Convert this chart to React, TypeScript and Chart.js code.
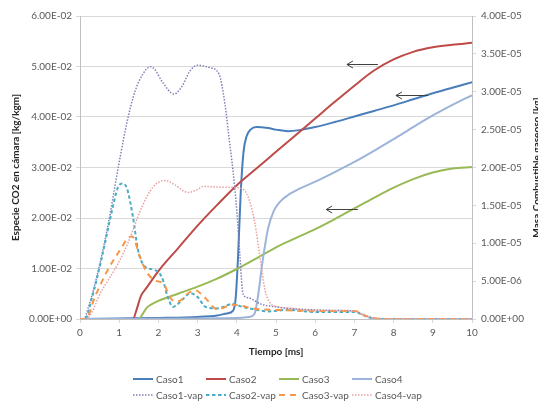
import React, { useEffect, useRef } from 'react';
import { Chart, registerables } from 'chart.js';

Chart.register(...registerables);

// ---- Data (time in ms) ----
const caso1T = [0, 1, 2, 3, 3.5, 3.75, 3.9, 3.97, 4.03, 4.1, 4.17, 4.25, 4.35, 4.5, 4.8, 5.0, 5.3, 5.6, 6.0, 6.5, 7.0, 7.5, 8.0, 8.5, 9.0, 9.5, 10];
const caso1Y = [0, 0.0001, 0.0002, 0.0004, 0.0007, 0.0011, 0.0016, 0.004, 0.012, 0.025, 0.033, 0.0362, 0.0375, 0.038, 0.0378, 0.0375, 0.0372, 0.0374, 0.038, 0.039, 0.0401, 0.0412, 0.0423, 0.0435, 0.0447, 0.0458, 0.0469];

const caso2T = [0, 1.35, 1.45, 1.55, 1.7, 2, 2.5, 3, 3.5, 4, 4.5, 5, 5.5, 6, 6.5, 7, 7.5, 8, 8.5, 9, 9.5, 10];
const caso2Y = [0, 0, 0.002, 0.0045, 0.0062, 0.0095, 0.014, 0.0185, 0.0226, 0.0265, 0.0298, 0.0331, 0.0364, 0.0397, 0.043, 0.0462, 0.0492, 0.0514, 0.0529, 0.0538, 0.0543, 0.0547];

const caso3T = [0, 1.5, 1.6, 1.7, 1.8, 2, 2.5, 3, 3.5, 4, 4.5, 5, 5.5, 6, 6.5, 7, 7.5, 8, 8.5, 9, 9.5, 10];
const caso3Y = [0, 0, 0.001, 0.0022, 0.0028, 0.0036, 0.005, 0.0064, 0.008, 0.0099, 0.012, 0.0142, 0.016, 0.0178, 0.0198, 0.0219, 0.024, 0.026, 0.0277, 0.029, 0.0298, 0.0301];

const caso4T = [0, 4, 4.3, 4.45, 4.55, 4.65, 4.8, 4.95, 5.1, 5.3, 5.6, 6, 6.5, 7, 7.5, 8, 8.5, 9, 9.5, 10];
const caso4Y = [0, 0.0002, 0.0004, 0.001, 0.005, 0.011, 0.018, 0.0215, 0.0232, 0.0245, 0.0258, 0.0272, 0.0291, 0.0311, 0.0333, 0.0356, 0.038, 0.0403, 0.0424, 0.0443];

// vapour mass [kg] (secondary axis)
const vap1T = [0, 0.1, 0.2, 0.4, 0.7, 1.0, 1.2, 1.4, 1.6, 1.8, 1.9, 2.1, 2.4, 2.6, 2.8, 3.0, 3.3, 3.55, 3.7, 3.8, 3.9, 4.0, 4.08, 4.16, 4.3, 4.6, 5.0, 5.5, 6.0, 6.5, 7.0, 7.2, 7.5, 8, 10];
const vap1Y = [0, 0, 1.33e-6, 5.0e-6, 1.2e-5, 2.07e-5, 2.6e-5, 3.0e-5, 3.23e-5, 3.33e-5, 3.3e-5, 3.13e-5, 2.97e-5, 3.07e-5, 3.27e-5, 3.35e-5, 3.32e-5, 3.23e-5, 2.83e-5, 2.4e-5, 1.97e-5, 1.43e-5, 8.3e-6, 3.3e-6, 2.8e-6, 2.0e-6, 1.6e-6, 1.33e-6, 1.2e-6, 1.13e-6, 1.07e-6, 6e-7, 1.3e-7, 0, 0];

const vap2T = [0, 0.13, 0.3, 0.56, 0.82, 0.97, 1.08, 1.2, 1.35, 1.48, 1.66, 1.9, 2.09, 2.24, 2.37, 2.6, 2.81, 3.0, 3.2, 3.5, 3.9, 4.1, 4.4, 4.8, 5.3, 6, 7, 7.3, 7.6, 10];
const vap2Y = [0, 0, 2.7e-6, 8.2e-6, 1.44e-5, 1.74e-5, 1.79e-5, 1.72e-5, 1.35e-5, 9.1e-6, 6.9e-6, 6.5e-6, 5.5e-6, 2.9e-6, 1.6e-6, 2.5e-6, 3.4e-6, 2.9e-6, 1.6e-6, 1.4e-6, 2.0e-6, 1.67e-6, 1.33e-6, 1.0e-6, 1.2e-6, 9.3e-7, 9.3e-7, 3.3e-7, 0, 0];

const vap3T = [0, 0.15, 0.38, 0.71, 1.07, 1.22, 1.33, 1.53, 1.7, 1.91, 2.12, 2.35, 2.5, 2.76, 2.93, 3.19, 3.5, 3.9, 4.5, 5, 6, 7, 7.3, 7.7, 10];
const vap3Y = [0, 0, 2.9e-6, 6.5e-6, 9.5e-6, 1.07e-5, 1.09e-5, 8.2e-6, 6.2e-6, 5.1e-6, 4.7e-6, 2.5e-6, 2.3e-6, 3.4e-6, 3.8e-6, 2.8e-6, 1.27e-6, 1.87e-6, 1.33e-6, 1.2e-6, 1.07e-6, 1.07e-6, 4e-7, 0, 0];

const vap4T = [0, 0.15, 0.56, 0.97, 1.22, 1.58, 1.86, 2.17, 2.42, 2.76, 3.0, 3.14, 3.65, 4.08, 4.29, 4.46, 4.59, 4.72, 4.85, 5.0, 5.5, 6, 7, 7.3, 7.6, 10];
const vap4Y = [0, 0, 3.8e-6, 7.3e-6, 1.0e-5, 1.48e-5, 1.74e-5, 1.83e-5, 1.77e-5, 1.67e-5, 1.71e-5, 1.75e-5, 1.74e-5, 1.73e-5, 1.61e-5, 1.27e-5, 8.2e-6, 3.8e-6, 2.1e-6, 1.67e-6, 1.33e-6, 1.13e-6, 1.07e-6, 3.3e-7, 0, 0];

const seriesNames = ['Caso1', 'Caso2', 'Caso3', 'Caso4', 'Caso1-vap', 'Caso2-vap', 'Caso3-vap', 'Caso4-vap'];

// arrows (data coordinates: time from/to, left-axis value)
const arrowFromT = [7.6, 8.88, 7.09];
const arrowToT = [6.81, 8.06, 6.28];
const arrowY = [0.0505, 0.0444, 0.0218];

const FONT = 'Lato, "Liberation Sans", sans-serif';
const TICK_COLOR = '#595959';
const TITLE_COLOR = '#262626';
const GRID = '#d9d9d9';
const AXIS = '#bfbfbf';

function sci(v: number): string {
  if (Math.abs(v) < 1e-15) return '0.00E+00';
  const [m, e] = v.toExponential(2).split('e');
  const n = parseInt(e, 10);
  return m + 'E' + (n < 0 ? '-' : '+') + String(Math.abs(n)).padStart(2, '0');
}

function pts(t: number[], y: number[]) {
  return t.map((x, i) => ({ x, y: y[i] }));
}

const styles = [
  { color: '#4a7ebb', width: 2, dash: [] as number[] },
  { color: '#be4b48', width: 2, dash: [] as number[] },
  { color: '#98b954', width: 2, dash: [] as number[] },
  { color: '#9db4da', width: 2, dash: [] as number[] },
  { color: '#8080b8', width: 1.5, dash: [1.5, 1.5] },
  { color: '#4bacc6', width: 2, dash: [3.5, 2.5] },
  { color: '#f79646', width: 2, dash: [6, 5] },
  { color: '#e8a0a0', width: 1.5, dash: [1.5, 1.5] },
];

const legendPlugin = {
  id: 'customLegend',
  afterDraw(chart: any) {
    const { ctx, chartArea } = chart;
    const cx = (chartArea.left + chartArea.right) / 2;
    const x0 = cx - 144;
    const colW = 73;
    ctx.save();
    ctx.font = '10px ' + FONT;
    ctx.textBaseline = 'middle';
    ctx.textAlign = 'left';
    seriesNames.forEach((name, i) => {
      const row = Math.floor(i / 4);
      const col = i % 4;
      const x = x0 + col * colW;
      const y = chartArea.bottom + 60 + row * 16;
      const st = styles[i];
      ctx.strokeStyle = st.color;
      ctx.lineWidth = st.width;
      ctx.setLineDash(st.dash);
      ctx.beginPath();
      ctx.moveTo(x + 1, y);
      ctx.lineTo(x + 21, y);
      ctx.stroke();
      ctx.setLineDash([]);
      ctx.fillStyle = TICK_COLOR;
      ctx.fillText(name, x + 24, y + 0.5);
    });
    ctx.restore();
  },
};

const arrowPlugin = {
  id: 'arrows',
  afterDatasetsDraw(chart: any) {
    const { ctx } = chart;
    const xs = chart.scales.x;
    const ys = chart.scales.y;
    ctx.save();
    ctx.strokeStyle = '#404040';
    ctx.lineWidth = 1;
    arrowY.forEach((v, i) => {
      const y = Math.round(ys.getPixelForValue(v)) + 0.5;
      const xa = xs.getPixelForValue(arrowFromT[i]);
      const xb = xs.getPixelForValue(arrowToT[i]);
      ctx.beginPath();
      ctx.moveTo(xa, y);
      ctx.lineTo(xb, y);
      ctx.moveTo(xb + 6, y - 3.5);
      ctx.lineTo(xb, y);
      ctx.lineTo(xb + 6, y + 3.5);
      ctx.stroke();
    });
    ctx.restore();
  },
};

const rightTitlePlugin = {
  id: 'rightTitle',
  afterDraw(chart: any) {
    const { ctx, chartArea } = chart;
    ctx.save();
    ctx.translate(540, (chartArea.top + chartArea.bottom) / 2);
    ctx.rotate(-Math.PI / 2);
    ctx.font = 'bold 10px ' + FONT;
    ctx.fillStyle = TITLE_COLOR;
    ctx.textAlign = 'center';
    ctx.textBaseline = 'alphabetic';
    ctx.fillText('Masa Combustible gaseoso [kg]', 0, 0);
    ctx.restore();
  },
};

export default function App() {
  const ref = useRef<HTMLCanvasElement | null>(null);

  useEffect(() => {
    if (!ref.current) return;
    const data = [
      pts(caso1T, caso1Y),
      pts(caso2T, caso2Y),
      pts(caso3T, caso3Y),
      pts(caso4T, caso4Y),
      pts(vap1T, vap1Y),
      pts(vap2T, vap2Y),
      pts(vap3T, vap3Y),
      pts(vap4T, vap4Y),
    ];
    const datasets = seriesNames.map((name, i) => ({
      label: name,
      data: data[i],
      yAxisID: i < 4 ? 'y' : 'y1',
      borderColor: styles[i].color,
      backgroundColor: styles[i].color,
      borderWidth: styles[i].width,
      borderDash: styles[i].dash,
      pointRadius: 0,
      fill: false,
      cubicInterpolationMode: 'monotone' as const,
      order: 8 - i,
    }));

    const chart = new Chart(ref.current, {
      type: 'line',
      data: { datasets },
      options: {
        animation: false,
        responsive: false,
        devicePixelRatio: 1,
        layout: { padding: { top: 16, bottom: 41, left: 0, right: 0 } },
        plugins: {
          legend: { display: false },
          tooltip: { enabled: false },
        },
        scales: {
          x: {
            type: 'linear',
            min: 0,
            max: 10,
            ticks: {
              stepSize: 1,
              color: TICK_COLOR,
              font: { family: FONT, size: 10 },
              padding: 4,
              maxRotation: 0,
            },
            grid: { drawOnChartArea: false, drawTicks: true, tickLength: 4, color: GRID },
            border: { display: true, color: AXIS },
            title: {
              display: true,
              text: 'Tiempo [ms]',
              color: TITLE_COLOR,
              font: { family: FONT, size: 10, weight: 'bold' },
              padding: { top: 0, bottom: 3 },
            },
            afterFit: (s: any) => { s.height = 42; },
          },
          y: {
            type: 'linear',
            position: 'left',
            min: 0,
            max: 0.06,
            ticks: {
              stepSize: 0.01,
              color: TICK_COLOR,
              font: { family: FONT, size: 10 },
              padding: 4,
              callback: (v: any) => sci(Number(v)),
            },
            grid: { color: GRID, tickLength: 4 },
            border: { display: true, color: AXIS },
            title: {
              display: true,
              text: 'Especie CO2 en cámara [kg/kgm]',
              color: TITLE_COLOR,
              font: { family: FONT, size: 10, weight: 'bold' },
              padding: { top: 10, bottom: 0 },
            },
            afterFit: (s: any) => { s.width = 80; },
          },
          y1: {
            type: 'linear',
            position: 'right',
            min: 0,
            max: 4e-5,
            ticks: {
              stepSize: 5e-6,
              color: TICK_COLOR,
              font: { family: FONT, size: 10 },
              padding: 5,
              callback: (v: any) => sci(Number(v)),
            },
            grid: { drawOnChartArea: false, color: GRID, tickLength: 4 },
            border: { display: true, color: AXIS },
            afterFit: (s: any) => { s.width = 66; },
          },
        },
      },
      plugins: [arrowPlugin, legendPlugin, rightTitlePlugin],
    } as any);
    return () => chart.destroy();
  }, []);

  return (
    <div style={{ position: 'absolute', left: 0, top: 0, width: 538, height: 402, background: '#fff' }}>
      <canvas ref={ref} width={538} height={402} style={{ display: 'block' }} />
    </div>
  );
}
